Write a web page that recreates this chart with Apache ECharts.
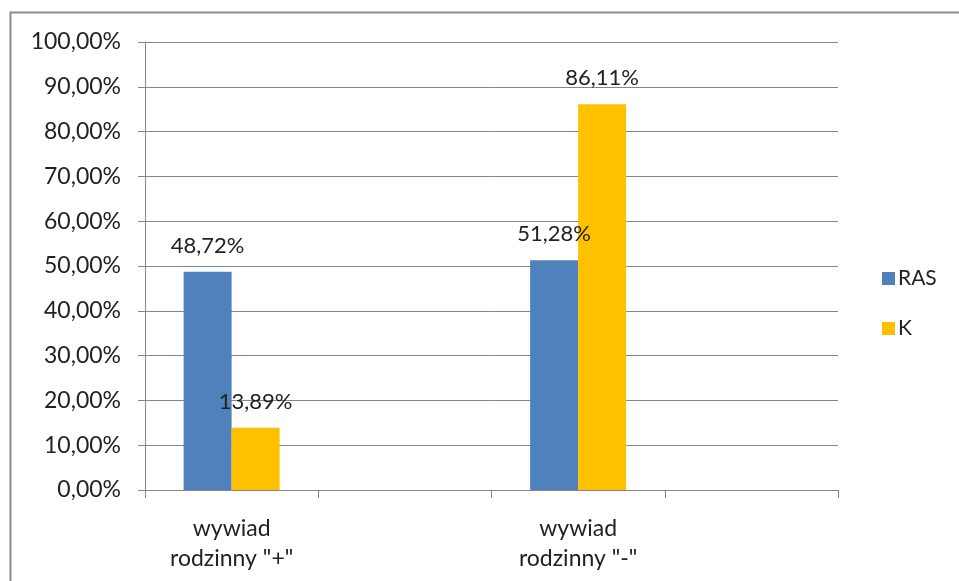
<!DOCTYPE html>
<html>
<head>
<meta charset="utf-8">
<script src="https://cdn.jsdelivr.net/npm/echarts@6/dist/echarts.min.js"></script>
<style>
  html, body { margin: 0; padding: 0; background: #fff; }
  #chart { width: 959px; height: 581px; }
</style>
</head>
<body>
<div id="chart"></div>
<script>
// Categories (empty slots keep the Excel-style spacing between groups)
const categories = ['wywiad\nrodzinny "+"', '', 'wywiad\nrodzinny "-"', ''];
const rasValues = [48.72, null, 51.28, null];
const kValues = [13.89, null, 86.11, null];
const seriesNames = ['RAS', 'K'];

const FONT = 'Lato, "Open Sans", sans-serif';
const fmt = v => v.toFixed(2).replace('.', ',') + '%';

const chart = echarts.init(document.getElementById('chart'), null, { renderer: 'canvas' });

const labelStyle = {
  show: true,
  position: 'top',
  distance: 15,
  color: '#222',
  fontFamily: FONT,
  fontSize: 22,
  formatter: p => fmt(p.value)
};

chart.setOption({
  backgroundColor: '#fff',
  animation: false,
  graphic: [{
    type: 'rect',
    shape: { x: 10.5, y: 12.5, width: 960, height: 600 },
    style: { fill: 'none', stroke: '#8a8a8a', lineWidth: 2 },
    silent: true
  }],
  grid: { left: 145, right: 121, top: 42, bottom: 91, containLabel: false },
  legend: {
    orient: 'vertical',
    left: 877,
    top: 263,
    itemWidth: 13,
    itemHeight: 13,
    itemGap: 29,
    icon: 'rect',
    textStyle: { fontFamily: FONT, fontSize: 21, color: '#222', padding: [0, 0, 0, -2] },
    data: seriesNames
  },
  xAxis: {
    type: 'category',
    data: categories,
    axisLine: { lineStyle: { color: '#868686', width: 1 } },
    axisTick: { show: true, alignWithLabel: false, interval: 0, length: 8, lineStyle: { color: '#868686' } },
    axisLabel: {
      interval: 0,
      margin: 24,
      color: '#222',
      fontFamily: FONT,
      fontSize: 23,
      lineHeight: 30
    },
    splitLine: { show: false }
  },
  yAxis: {
    type: 'value',
    min: 0,
    max: 100,
    interval: 10,
    axisLine: { show: true, lineStyle: { color: '#868686', width: 1 } },
    axisTick: { show: true, length: 7, lineStyle: { color: '#868686' } },
    axisLabel: {
      margin: 24,
      color: '#222',
      fontFamily: FONT,
      fontSize: 23,
      formatter: v => fmt(v)
    },
    splitLine: { lineStyle: { color: '#868686', width: 1 } }
  },
  series: [
    {
      name: seriesNames[0],
      type: 'bar',
      data: rasValues,
      barWidth: 48,
      barGap: '0%',
      itemStyle: { color: '#4F81BD' },
      label: labelStyle
    },
    {
      name: seriesNames[1],
      type: 'bar',
      data: kValues,
      barWidth: 48,
      barGap: '0%',
      itemStyle: { color: '#FFC000' },
      label: labelStyle
    }
  ]
});
</script>
</body>
</html>
